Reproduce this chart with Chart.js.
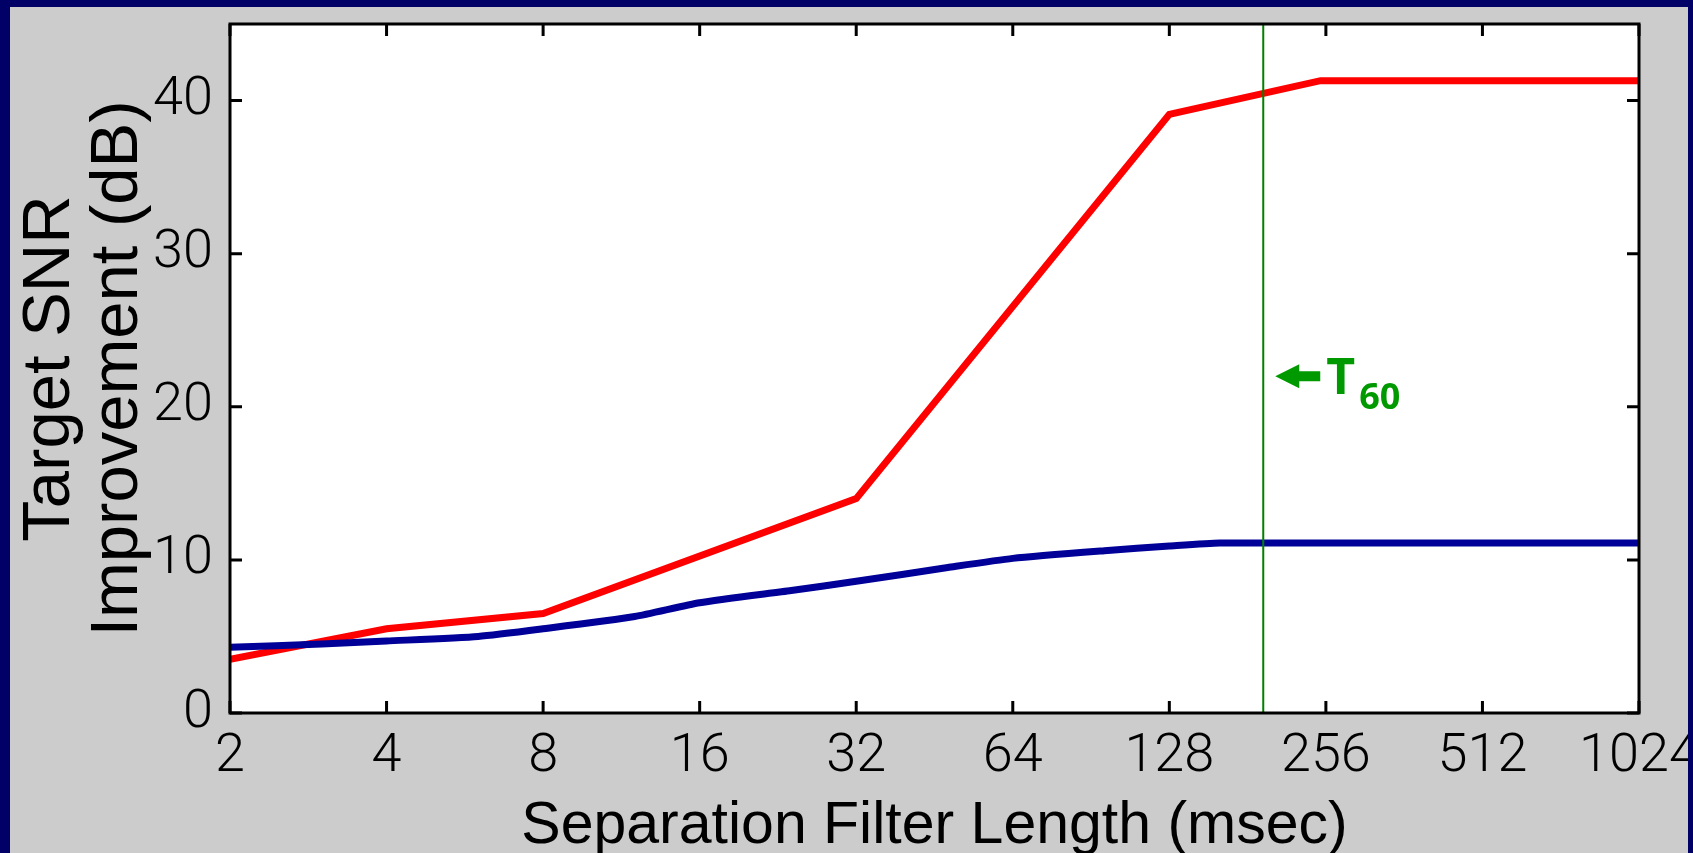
<!DOCTYPE html>
<html>
<head>
<meta charset="utf-8">
<script src="https://cdn.jsdelivr.net/npm/chart.js@4.4.1/dist/chart.umd.min.js"></script>
<style>
  html, body { margin: 0; padding: 0; background: #000066; }
  #wrap { width: 1693px; height: 853px; }
</style>
</head>
<body>
<div id="wrap"><canvas id="snrChart" width="1693" height="853"></canvas></div>
<script>
// filter lengths (msec) and SNR gains (dB)
const xTicks = [2, 4, 8, 16, 32, 64, 128, 256, 512, 1024];
const yTicks = [0, 10, 20, 30, 40];

const redLengths = [2, 4, 8, 32, 128, 250, 512, 1024];
const redSnr     = [3.5, 5.5, 6.5, 14.0, 39.1, 41.3, 41.3, 41.3];

const blueLengths = [2, 3, 4, 6, 8, 12, 16, 24, 32, 48, 64, 96, 128, 160, 256, 512, 1024];
const blueSnr     = [4.3, 4.5, 4.7, 5.0, 5.5, 6.3, 7.2, 8.0, 8.6, 9.5, 10.1, 10.6, 10.9, 11.1, 11.1, 11.1, 11.1];

const t60 = 194;          // reverberation time marker
const t60Range = [0, 45];
const t60LabelY = 22;

const toPoints = (xs, ys) => xs.map((x, i) => ({ x: x, y: ys[i] }));

// frame, grey panel, white plot area
const backdrop = {
  id: 'backdrop',
  beforeDraw(chart) {
    const { ctx, chartArea: a } = chart;
    ctx.save();
    ctx.fillStyle = '#000066';
    ctx.fillRect(0, 0, chart.width, chart.height);
    ctx.fillStyle = '#cccccc';
    ctx.fillRect(10, 7, chart.width - 15, chart.height - 7);
    ctx.fillStyle = '#ffffff';
    ctx.fillRect(a.left, a.top, a.right - a.left, a.bottom - a.top);
    ctx.restore();
  },
  afterDraw(chart) {
    // the navy edge covers the end of the "1024" label
    const { ctx } = chart;
    ctx.save();
    ctx.fillStyle = '#000066';
    ctx.fillRect(chart.width - 5, 0, 5, chart.height);
    ctx.restore();
  }
};

// inward ticks on all four sides, box border, T60 label
const boxAxes = {
  id: 'boxAxes',
  afterDatasetsDraw(chart) {
    const { ctx, chartArea: a, scales: { x, y } } = chart;
    const len = 12;
    ctx.save();
    ctx.strokeStyle = '#000';
    ctx.lineWidth = 3;
    ctx.beginPath();
    xTicks.forEach(v => {
      const px = x.getPixelForValue(v);
      ctx.moveTo(px, a.bottom); ctx.lineTo(px, a.bottom - len);
      ctx.moveTo(px, a.top); ctx.lineTo(px, a.top + len);
    });
    yTicks.forEach(v => {
      const py = y.getPixelForValue(v);
      ctx.moveTo(a.left, py); ctx.lineTo(a.left + len, py);
      ctx.moveTo(a.right, py); ctx.lineTo(a.right - len, py);
    });
    ctx.stroke();
    ctx.strokeRect(a.left, a.top, a.right - a.left, a.bottom - a.top);

    // arrow + T60
    const lx = x.getPixelForValue(t60);
    const ly = y.getPixelForValue(t60LabelY);
    ctx.fillStyle = '#009900';
    ctx.beginPath();
    ctx.moveTo(lx + 12, ly);
    ctx.lineTo(lx + 36, ly - 12);
    ctx.lineTo(lx + 36, ly - 5);
    ctx.lineTo(lx + 57, ly - 5);
    ctx.lineTo(lx + 57, ly + 5);
    ctx.lineTo(lx + 36, ly + 5);
    ctx.lineTo(lx + 36, ly + 12);
    ctx.closePath();
    ctx.fill();
    ctx.textBaseline = 'alphabetic';
    ctx.textAlign = 'left';
    ctx.font = 'bold 50px "Open Sans", sans-serif';
    ctx.fillText('T', lx + 63, ly + 18);
    ctx.font = 'bold 36px "Open Sans", sans-serif';
    ctx.fillText('60', lx + 96, ly + 33);
    ctx.restore();
  }
};

const tickFont = { family: 'Roboto, "Liberation Sans", sans-serif', size: 54, weight: 300 };

new Chart(document.getElementById('snrChart'), {
  type: 'line',
  data: {
    datasets: [
      {
        label: 'T60',
        data: toPoints([t60, t60], t60Range),
        borderColor: '#008000',
        borderWidth: 2,
        pointRadius: 0
      },
      {
        label: 'Blue',
        data: toPoints(blueLengths, blueSnr),
        borderColor: '#000099',
        borderWidth: 7,
        pointRadius: 0,
        tension: 0.2
      },
      {
        label: 'Red',
        data: toPoints(redLengths, redSnr),
        borderColor: '#ff0000',
        borderWidth: 7,
        pointRadius: 0,
        tension: 0
      }
    ]
  },
  options: {
    responsive: false,
    animation: false,
    layout: { padding: { left: 10, right: 54, top: 24, bottom: 0 } },
    plugins: { legend: { display: false }, tooltip: { enabled: false } },
    scales: {
      x: {
        type: 'logarithmic',
        min: 2,
        max: 1024,
        afterBuildTicks: s => { s.ticks = xTicks.map(v => ({ value: v })); },
        afterFit: s => { s.height = 140; s.paddingLeft = 0; s.paddingRight = 0; },
        grid: { display: false, drawTicks: false },
        border: { display: false },
        ticks: {
          color: '#000',
          font: tickFont,
          padding: 12,
          maxRotation: 0,
          autoSkip: false,
          callback: v => String(v)
        },
        title: {
          display: true,
          text: 'Separation Filter Length (msec)',
          color: '#000',
          font: { family: '"Liberation Sans", Arial, sans-serif', size: 59, lineHeight: 0.9 },
          padding: { top: 0, bottom: 0 }
        }
      },
      y: {
        min: 0,
        max: 45,
        afterBuildTicks: s => { s.ticks = yTicks.map(v => ({ value: v })); },
        afterFit: s => { s.width = 220; s.paddingTop = 0; s.paddingBottom = 0; },
        grid: { display: false, drawTicks: false },
        border: { display: false },
        ticks: { color: '#000', font: tickFont, padding: 17 },
        title: {
          display: true,
          text: ['Target SNR', 'Improvement (dB)'],
          color: '#000',
          font: { family: '"Liberation Sans", Arial, sans-serif', size: 67, lineHeight: 1.01 },
          padding: { top: 7, bottom: 0 }
        }
      }
    }
  },
  plugins: [backdrop, boxAxes]
});
</script>
</body>
</html>
